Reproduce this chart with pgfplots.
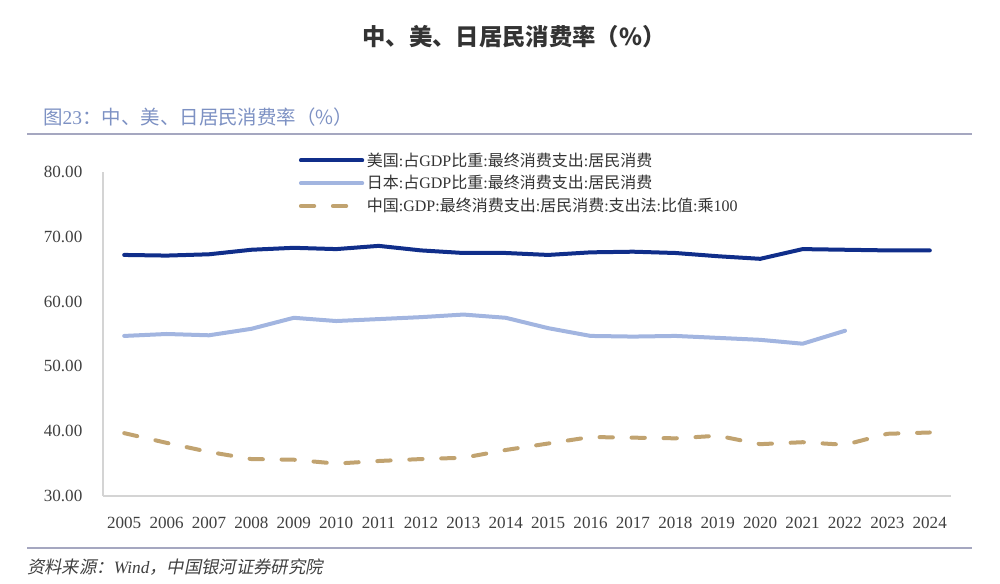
\documentclass[border=0pt]{standalone}
\usepackage{fontspec}
\usepackage{pgfplots}
\pgfplotsset{compat=1.18}
\setmainfont{Liberation Serif}
\newfontfamily\cjk{Noto Sans CJK SC}
\newfontfamily\cjkit{Noto Sans CJK SC}[FakeSlant=0.2]
\newcommand{\C}[1]{{\cjk #1}}
\definecolor{usnavy}{RGB}{16,46,138}
\definecolor{jpblue}{RGB}{162,181,224}
\definecolor{cntan}{RGB}{193,163,112}
\definecolor{titlegray}{RGB}{51,51,51}
\definecolor{subblue}{RGB}{125,145,195}
\definecolor{rulegray}{RGB}{165,167,192}
\definecolor{axisgray}{RGB}{212,212,212}
\definecolor{ticktext}{RGB}{64,64,64}
\definecolor{foot}{RGB}{64,64,64}

\pgfplotstableread{
year us
2005 67.2
2006 67.1
2007 67.3
2008 68.0
2009 68.3
2010 68.1
2011 68.6
2012 67.9
2013 67.5
2014 67.5
2015 67.2
2016 67.6
2017 67.7
2018 67.5
2019 67.0
2020 66.6
2021 68.1
2022 68.0
2023 67.9
2024 67.9
}\usdata
\pgfplotstableread{
year jp
2005 54.7
2006 55.0
2007 54.8
2008 55.8
2009 57.5
2010 57.0
2011 57.3
2012 57.6
2013 58.0
2014 57.5
2015 55.9
2016 54.7
2017 54.6
2018 54.7
2019 54.4
2020 54.1
2021 53.5
2022 55.5
}\jpdata
\pgfplotstableread{
year cn
2005 39.7
2006 38.2
2007 36.8
2008 35.7
2009 35.6
2010 35.0
2011 35.4
2012 35.7
2013 35.9
2014 37.1
2015 38.1
2016 39.1
2017 39.0
2018 38.9
2019 39.3
2020 38.0
2021 38.3
2022 37.9
2023 39.6
2024 39.8
}\cndata

\begin{document}
\begin{tikzpicture}
\path[use as bounding box] (0pt,0pt) rectangle (750pt,438pt);
\node[font=\cjk\bfseries\fontsize{17.5}{20}\selectfont, text=titlegray] at (385.5pt,410.25pt) {中、美、日居民消费率（\%）};
\node[anchor=west, inner sep=0, font=\fontsize{14.6}{16}\selectfont, text=subblue] at (32.25pt,350.25pt) {\C{图}23\C{：中、美、日居民消费率（\%）}};
\draw[rulegray, line width=1.5pt] (20.25pt,337.5pt) -- (729pt,337.5pt);
\draw[rulegray, line width=1.5pt] (20.25pt,27pt) -- (729pt,27pt);
\node[anchor=west, inner sep=0, font=\fontsize{13}{15}\selectfont\itshape, text=foot] at (20.25pt,12.75pt) {{\cjkit 资料来源：}Wind{\cjkit ，中国银河证券研究院}};
\begin{axis}[
  at={(77.25pt,66pt)}, anchor=south west,
  scale only axis, width=636pt, height=243pt,
  xmin=2004.5, xmax=2024.5, ymin=30, ymax=80,
  xtick={2005,...,2024}, ytick={30,40,...,80},
  axis x line*=bottom, axis y line*=left,
  axis line style={draw=axisgray, line width=1.2pt},
  major tick length=0pt,
  /pgf/number format/assume math mode=true,
  tick label style={font=\fontsize{12.8}{14}\selectfont, text=ticktext},
  xticklabel style={/pgf/number format/1000 sep={}, yshift=-12pt},
  yticklabel style={/pgf/number format/fixed, /pgf/number format/fixed zerofill, /pgf/number format/precision=2, xshift=-12pt},
  legend style={at={(0.226,1.077)}, anchor=north west, draw=none, fill=none,
    font=\fontsize{12}{14}\selectfont, text=titlegray, row sep=1.5pt},
  legend cell align=left,
  legend image code/.code={\draw[#1, line cap=round] (0pt,0pt) -- (46pt,0pt);},
]
\addplot[usnavy, line width=3pt, line join=round, line cap=round] table[x=year, y=us] {\usdata};
\addlegendentry{\C{美国}:\C{占}GDP\C{比重}:\C{最终消费支出}:\C{居民消费}}
\addplot[jpblue, line width=3pt, line join=round, line cap=round] table[x=year, y=jp] {\jpdata};
\addlegendentry{\C{日本}:\C{占}GDP\C{比重}:\C{最终消费支出}:\C{居民消费}}
\addplot[cntan, line width=3pt, line join=round, line cap=round, dash pattern=on 10pt off 14pt] table[x=year, y=cn] {\cndata};
\addlegendentry{\C{中国}:GDP:\C{最终消费支出}:\C{居民消费}:\C{支出法}:\C{比值}:\C{乘}100}
\end{axis}
\end{tikzpicture}
\end{document}
